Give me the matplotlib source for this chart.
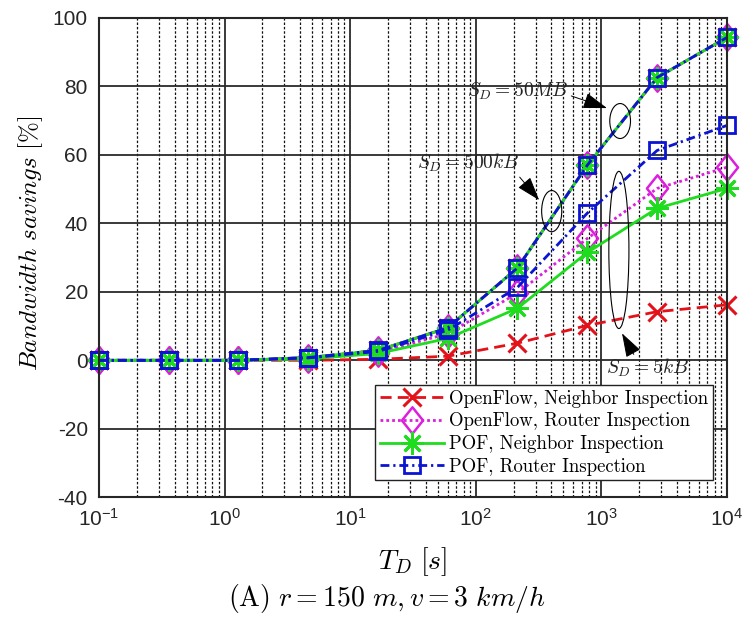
import matplotlib
matplotlib.use('Agg')
import matplotlib.pyplot as plt
from matplotlib.patches import Ellipse
from matplotlib.path import Path

plt.rcParams['font.family'] = 'Liberation Sans'
plt.rcParams['mathtext.fontset'] = 'custom'
plt.rcParams['mathtext.rm'] = 'Liberation Sans'
plt.rcParams['mathtext.it'] = 'Liberation Sans:italic'
plt.rcParams['axes.unicode_minus'] = False

# dwell time T_D [s]
td = [0.1, 0.359, 1.29, 4.64, 16.7, 59.9, 215, 774, 2783, 10000]

# S_D = 500kB and S_D = 50MB: all four schemes lie on the same curve
big = [0, 0, 0, 0.8, 2.9, 9.5, 27.0, 57.0, 82.6, 94.3]

# S_D = 5kB
of_nb = [0, 0, 0, 0, 0.3, 1.2, 5.0, 10.2, 14.2, 16.2]
of_ri = [0, 0, 0, 0.5, 2.2, 7.8, 19.6, 35.6, 50.2, 56.4]
pof_nb = [0, 0, 0, 0.4, 2.0, 6.4, 15.2, 31.5, 44.4, 50.2]
pof_ri = [0, 0, 0, 0.7, 2.6, 8.8, 21.3, 43.0, 61.3, 68.6]

labels = ['OpenFlow, Neighbor Inspection', 'OpenFlow, Router Inspection',
          'POF, Neighbor Inspection', 'POF, Router Inspection']
yticks = [-40, -20, 0, 20, 40, 60, 80, 100]

diamond = Path([(0, 1), (0.8, 0), (0, -1), (-0.8, 0), (0, 1)],
               [Path.MOVETO, Path.LINETO, Path.LINETO, Path.LINETO, Path.CLOSEPOLY])

styles = [
    dict(color='#e3121a', dashes=(4, 2.2), marker='x', ms=13, mew=2.2),
    dict(color='#dc1fdc', dashes=(1, 1.1), marker=diamond, ms=19, mew=1.8, mfc='none'),
    dict(color='#1fdc1f', linestyle='-', marker=(8, 2, 0), ms=16, mew=2),
    dict(color='#0a14d2', dashes=(3.2, 1.4, 0.8, 1.4), marker='s', ms=12, mew=2, mfc='none'),
]

fig = plt.figure(figsize=(7.44, 6.2), dpi=100)
ax = fig.add_axes([0.133, 0.198, 0.844, 0.773])

for ys, st, lab in zip([of_nb, of_ri, pof_nb, pof_ri], styles, labels):
    ax.plot(td, big, lw=2, clip_on=False, **st)
    ax.plot(td, ys, lw=2, label=lab, clip_on=False, **st)

ax.set_xscale('log')
ax.set_xlim(0.1, 1e4)
ax.set_ylim(-40, 100)
ax.set_yticks(yticks)
ax.set_yticklabels([str(v) for v in yticks])

ax.grid(True, which='major', color='#2a2a2a', lw=1.3, ls='-')
ax.grid(True, which='minor', axis='x', color='#111111', lw=0.9, ls=(0, (2, 1.5)))
ax.set_axisbelow(True)
ax.tick_params(which='both', direction='in', labelsize=15, colors='#262626')
ax.tick_params(which='major', length=0, pad=8)
ax.tick_params(which='minor', length=0)
for sp in ax.spines.values():
    sp.set_linewidth(1.5)
    sp.set_color('#262626')

ax.set_xlabel(r'$T_D\ [s]$', fontsize=20, math_fontfamily='cm', labelpad=11)
ax.set_ylabel(r'$Bandwidth\ savings\ [\%]$', fontsize=18, math_fontfamily='cm')
ax.yaxis.set_label_coords(-0.086, 0.53)

# ellipses and arrows marking the curve groups
for cx, cy, w, h in [(0.830, 0.785, 0.033, 0.073), (0.721, 0.597, 0.032, 0.086),
                     (0.828, 0.516, 0.032, 0.328)]:
    ax.add_patch(Ellipse((cx, cy), w, h, transform=ax.transAxes, fill=False,
                         ec='black', lw=0.8, zorder=5))

arrow = dict(arrowstyle='-|>,head_length=0.75,head_width=0.25', color='black',
             lw=0.7, mutation_scale=20, shrinkA=0, shrinkB=0)
ax.annotate(r'$S_D = 50MB$', xy=(0.809, 0.812), xycoords='axes fraction',
            xytext=(0.667, 0.846), textcoords='axes fraction', ha='center', va='center',
            fontsize=14, math_fontfamily='cm', color='#222222', zorder=6,
            arrowprops=dict(arrow, relpos=(1.0, 0.35)))
ax.annotate(r'$S_D = 500kB$', xy=(0.701, 0.620), xycoords='axes fraction',
            xytext=(0.588, 0.697), textcoords='axes fraction', ha='center', va='center',
            fontsize=14, math_fontfamily='cm', color='#222222', zorder=6,
            arrowprops=dict(arrow, relpos=(0.98, 0.0)))
ax.annotate(r'$S_D = 5kB$', xy=(0.833, 0.342), xycoords='axes fraction',
            xytext=(0.874, 0.269), textcoords='axes fraction', ha='center', va='center',
            fontsize=14, math_fontfamily='cm', color='#222222', zorder=2,
            arrowprops=dict(arrow, relpos=(0.35, 1.0)))

leg = ax.legend(loc='lower right', bbox_to_anchor=(0.978, 0.035), prop={'family': 'cmr10', 'size': 13.5},
                fancybox=False, framealpha=1, edgecolor='#222222', handlelength=3.4,
                handletextpad=0.3, labelspacing=0.25, borderpad=0.25, borderaxespad=0)
leg.get_frame().set_linewidth(1.0)
leg.set_zorder(10)

fig.text(0.52, 0.035, r'$\mathrm{(A)}\ r = 150\ m, v = 3\ km/h$', ha='center', va='center',
         fontsize=20, math_fontfamily='cm')

fig.savefig('out.png', dpi=100)
